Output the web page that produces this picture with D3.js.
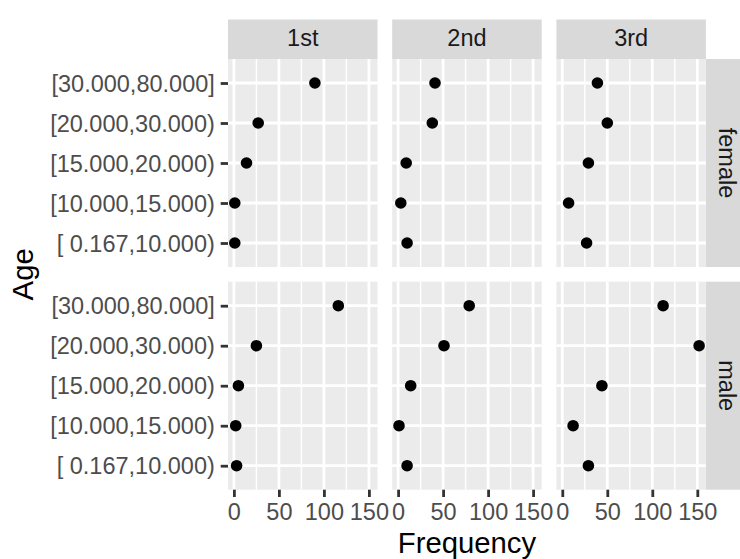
<!DOCTYPE html>
<html>
<head>
<meta charset="utf-8">
<script src="https://cdn.jsdelivr.net/npm/d3@7"></script>
<style>
  html, body { margin: 0; padding: 0; background: #ffffff; }
  svg { display: block; font-family: "Liberation Sans", Arial, Helvetica, sans-serif; }
  text { white-space: pre; }
</style>
</head>
<body>
<svg id="chart" width="740" height="559"></svg>
<script>
// Passenger counts by age band, one array per sex × class panel
// (values ordered from the youngest band to the oldest).
const ageBins = ["[ 0.167,10.000)", "[10.000,15.000)", "[15.000,20.000)", "[20.000,30.000)", "[30.000,80.000]"];
const classes = ["1st", "2nd", "3rd"];
const sexes = ["female", "male"];

const female1st = [1, 1, 14, 27, 90];
const female2nd = [10, 3, 9, 38, 41];
const female3rd = [27, 7, 29, 50, 39];
const male1st = [3, 2, 5, 25, 116];
const male2nd = [10, 1, 14, 51, 79];
const male3rd = [29, 12, 44, 152, 112];

const xTicks = [0, 50, 100, 150];
const xMinorTicks = [25, 75, 125];

const panelValues = {
  female: { "1st": female1st, "2nd": female2nd, "3rd": female3rd },
  male:   { "1st": male1st,   "2nd": male2nd,   "3rd": male3rd }
};

// ---- layout ----
const panelLeft = 228, panelW = 149.5, gapX = 14.7;
const stripTop = 19.5, stripH = 39.5;
const panelTop = stripTop + stripH, panelH = 208, gapY = 14.7;
const rightStripW = 44;
const tickLen = 7.3, tickPad = 5.9;
const tickFont = 23.5, titleFont = 29.3;

const svg = d3.select("#chart");

// shared x scale (fixed across facets, 5% expansion like ggplot)
const allVals = [].concat(female1st, female2nd, female3rd, male1st, male2nd, male3rd);
const lo = d3.min(allVals), hi = d3.max(allVals);
const pad = (hi - lo) * 0.05;
const x = d3.scaleLinear().domain([lo - pad, hi + pad]).range([0, panelW]);

const y = d3.scalePoint().domain(ageBins).range([panelH, 0]).padding(0.6);

const colX = c => panelLeft + c * (panelW + gapX);
const rowY = r => panelTop + r * (panelH + gapY);

// column strips
classes.forEach((cls, c) => {
  const g = svg.append("g").attr("transform", `translate(${colX(c)},${stripTop})`);
  g.append("rect").attr("width", panelW).attr("height", stripH).attr("fill", "#D9D9D9");
  g.append("text").attr("x", panelW / 2).attr("y", 26.2)
    .attr("text-anchor", "middle").attr("font-size", tickFont).attr("fill", "#1A1A1A").text(cls);
});

// row strips
const stripX = colX(classes.length - 1) + panelW;
sexes.forEach((sex, r) => {
  const g = svg.append("g").attr("transform", `translate(${stripX},${rowY(r)})`);
  g.append("rect").attr("width", rightStripW).attr("height", panelH).attr("fill", "#D9D9D9");
  g.append("text").attr("transform", `translate(13,${panelH / 2}) rotate(90)`)
    .attr("text-anchor", "middle").attr("font-size", tickFont).attr("fill", "#1A1A1A").text(sex);
});

// panels
sexes.forEach((sex, r) => {
  classes.forEach((cls, c) => {
    const g = svg.append("g").attr("transform", `translate(${colX(c)},${rowY(r)})`);
    g.append("rect").attr("width", panelW).attr("height", panelH).attr("fill", "#EBEBEB");

    g.selectAll("line.minor").data(xMinorTicks.filter(t => t > x.domain()[0] && t < x.domain()[1]))
      .join("line").attr("class", "minor")
      .attr("x1", d => x(d)).attr("x2", d => x(d)).attr("y1", 0).attr("y2", panelH)
      .attr("stroke", "#ffffff").attr("stroke-width", 1.4);

    g.selectAll("line.hmajor").data(ageBins).join("line").attr("class", "hmajor")
      .attr("x1", 0).attr("x2", panelW).attr("y1", d => y(d)).attr("y2", d => y(d))
      .attr("stroke", "#ffffff").attr("stroke-width", 2.8);

    g.selectAll("line.vmajor").data(xTicks).join("line").attr("class", "vmajor")
      .attr("x1", d => x(d)).attr("x2", d => x(d)).attr("y1", 0).attr("y2", panelH)
      .attr("stroke", "#ffffff").attr("stroke-width", 2.8);

    const vals = panelValues[sex][cls];
    g.selectAll("circle").data(ageBins.map((b, i) => ({ bin: b, v: vals[i] })))
      .join("circle")
      .attr("cx", d => x(d.v)).attr("cy", d => y(d.bin)).attr("r", 5.8)
      .attr("fill", "#000000");
  });

  // y axis for the row
  const ya = svg.append("g").attr("transform", `translate(${panelLeft},${rowY(r)})`)
    .call(d3.axisLeft(y).tickSize(tickLen).tickPadding(tickPad));
  ya.select(".domain").remove();
  ya.selectAll(".tick line").attr("stroke", "#333333").attr("stroke-width", 2.8);
  ya.selectAll(".tick text").attr("fill", "#4D4D4D").attr("font-size", tickFont)
    .attr("font-family", null).attr("dy", "0.35em");
});

// x axes under each column
classes.forEach((cls, c) => {
  const xa = svg.append("g").attr("transform", `translate(${colX(c)},${rowY(1) + panelH})`)
    .call(d3.axisBottom(x).tickValues(xTicks).tickFormat(d3.format("d")).tickSize(tickLen).tickPadding(tickPad));
  xa.select(".domain").remove();
  xa.selectAll(".tick line").attr("stroke", "#333333").attr("stroke-width", 2.8);
  xa.selectAll(".tick text").attr("fill", "#4D4D4D").attr("font-size", tickFont)
    .attr("font-family", null).attr("dy", "0.71em");
});

// axis titles
const panelsRight = colX(classes.length - 1) + panelW;
svg.append("text").attr("x", (panelLeft + panelsRight) / 2).attr("y", 553)
  .attr("text-anchor", "middle").attr("font-size", titleFont).attr("fill", "#000000").text("Frequency");
svg.append("text").attr("transform", `translate(33,${(rowY(0) + rowY(1) + panelH) / 2}) rotate(-90)`)
  .attr("text-anchor", "middle").attr("font-size", titleFont).attr("fill", "#000000").text("Age");
</script>
</body>
</html>
